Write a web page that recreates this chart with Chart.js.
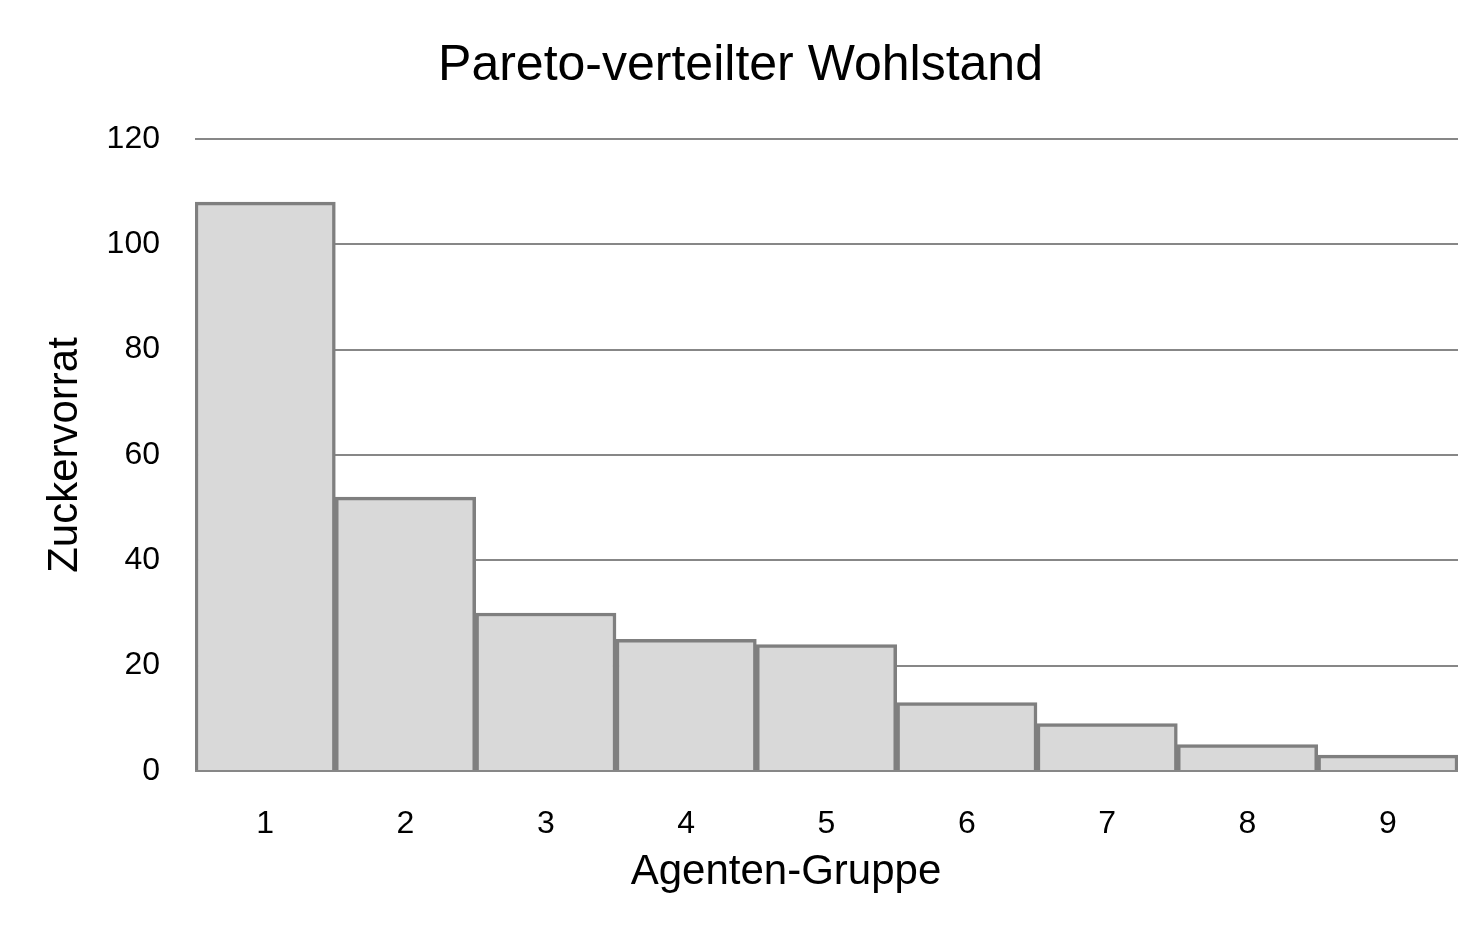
<!DOCTYPE html>
<html>
<head>
<meta charset="utf-8">
<script src="https://cdn.jsdelivr.net/npm/chart.js@4"></script>
<style>
  html, body { margin: 0; padding: 0; background: #fff; }
  #wrap { width: 1481px; height: 946px; }
</style>
</head>
<body>
<div id="wrap"><canvas id="chart"></canvas></div>
<script>
const groups = ["1", "2", "3", "4", "5", "6", "7", "8", "9"];
const sugar = [108, 52, 30, 25, 24, 13, 9, 5, 3];

const fontFamily = "'Liberation Sans', Arial, sans-serif";

// x axis title sits a bit left of the plot centre in the original
const xTitlePlugin = {
    id: "xTitle",
    afterDraw(chart) {
        const ctx = chart.ctx;
        ctx.save();
        ctx.font = "42px " + fontFamily;
        ctx.fillStyle = "#000";
        ctx.textAlign = "center";
        ctx.textBaseline = "middle";
        ctx.fillText("Agenten-Gruppe", 786, 872);
        ctx.restore();
    }
};

new Chart(document.getElementById("chart"), {
    type: "bar",
    data: {
        labels: groups,
        datasets: [{
            data: sugar,
            backgroundColor: "#d9d9d9",
            borderColor: "#7f7f7f",
            borderWidth: 3.5,
            borderSkipped: "bottom",
            categoryPercentage: 1,
            barPercentage: 1
        }]
    },
    options: {
        responsive: true,
        maintainAspectRatio: false,
        animation: false,
        layout: { padding: { left: 23, right: 23, top: 0, bottom: 0 } },
        plugins: {
            legend: { display: false },
            tooltip: { enabled: false },
            title: {
                display: true,
                text: "Pareto-verteilter Wohlstand",
                color: "#000",
                font: { family: fontFamily, size: 50, weight: "normal" },
                padding: { top: 36, bottom: 43 }
            }
        },
        scales: {
            x: {
                grid: { display: false, drawTicks: false },
                border: { display: false },
                ticks: {
                    color: "#000",
                    padding: 34,
                    font: { family: fontFamily, size: 32 }
                },
                afterFit: (scale) => { scale.height = 175; }
            },
            y: {
                min: 0,
                max: 120,
                grid: { color: "#878787", lineWidth: 2, drawTicks: false },
                border: { display: false },
                ticks: {
                    stepSize: 20,
                    color: "#000",
                    padding: 35,
                    font: { family: fontFamily, size: 32 }
                },
                title: {
                    display: true,
                    text: "Zuckervorrat",
                    color: "#000",
                    font: { family: fontFamily, size: 42 },
                    padding: { top: 17, bottom: 0 }
                },
                afterFit: (scale) => { scale.width = 172; }
            }
        }
    },
    plugins: [xTitlePlugin]
});
</script>
</body>
</html>
